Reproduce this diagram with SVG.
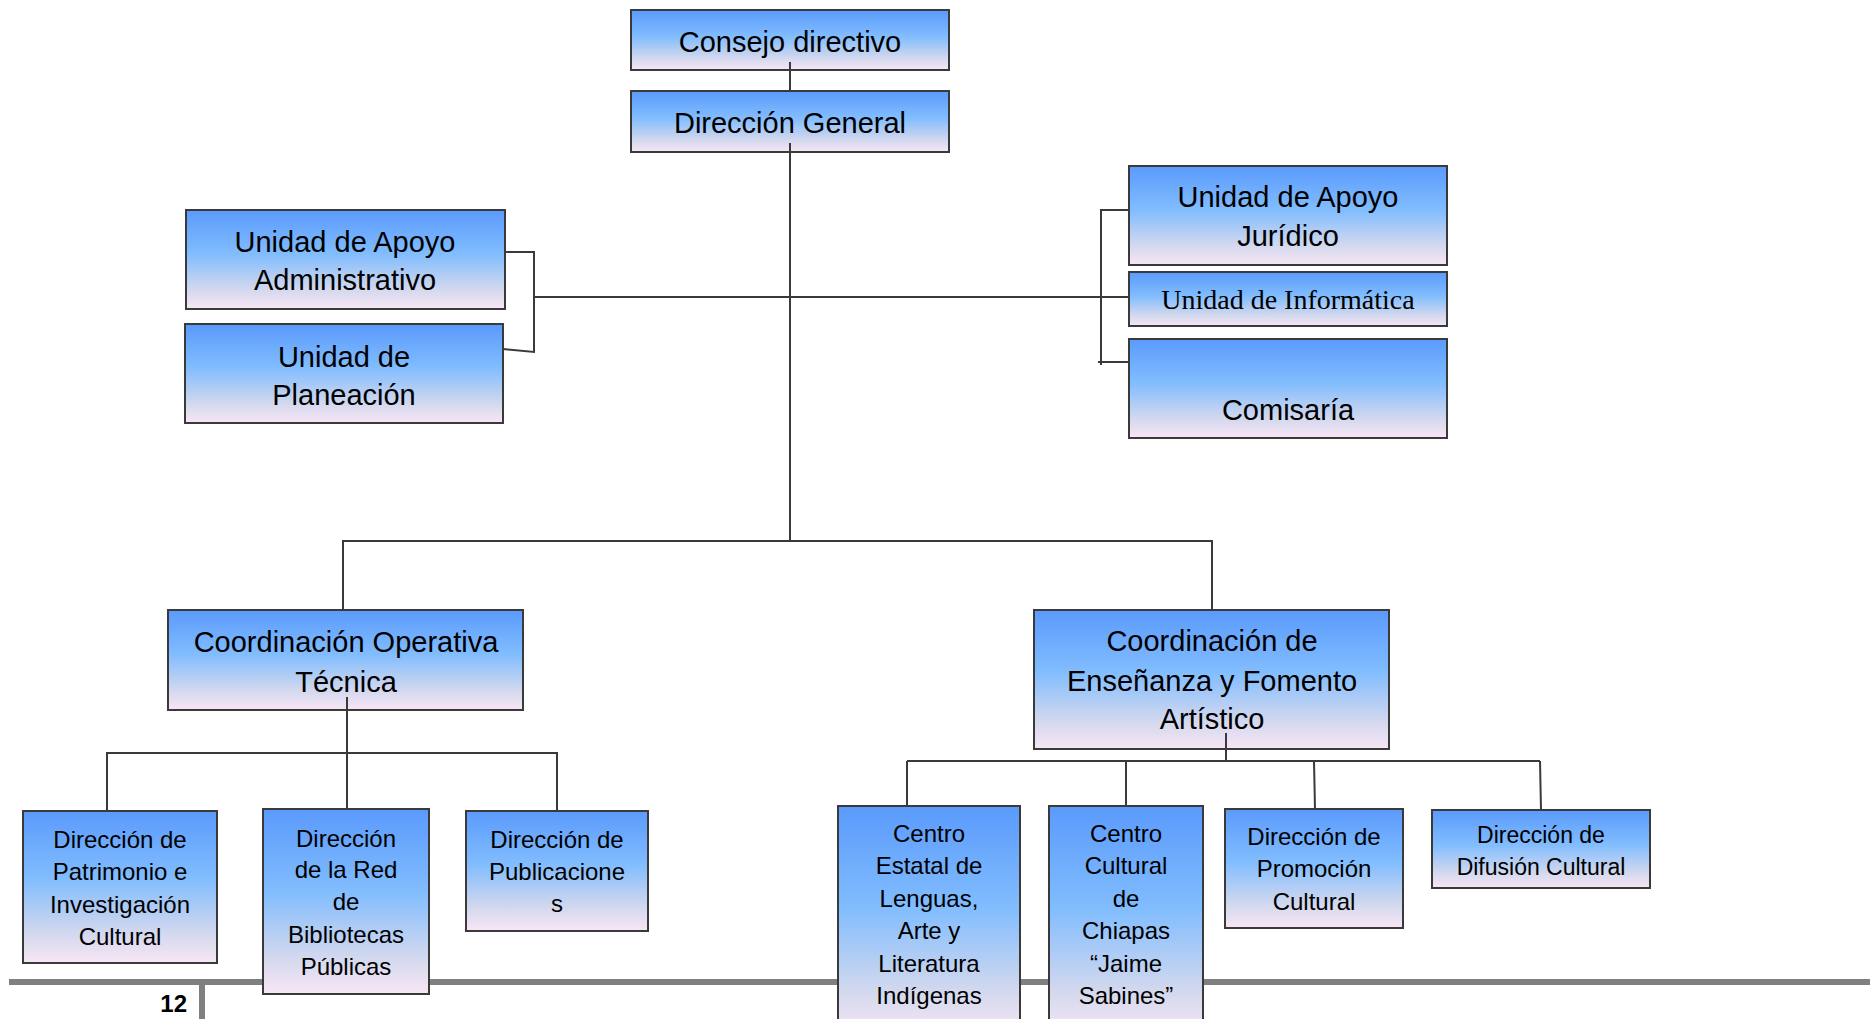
<svg xmlns="http://www.w3.org/2000/svg" width="1870" height="1019" viewBox="0 0 1870 1019">
<defs>
<linearGradient id="g" x1="0" y1="0" x2="0" y2="1">
<stop offset="0" stop-color="#5a9afc"/>
<stop offset="0.45" stop-color="#82bdfe"/>
<stop offset="0.8" stop-color="#d2d8ee"/>
<stop offset="1" stop-color="#f8e6f4"/>
</linearGradient>
<style>
.box{fill:url(#g);stroke:#3a3a3a;stroke-width:2}
.t{font-family:"Liberation Sans",Arial,sans-serif;fill:#000;text-anchor:middle}
.big{font-size:29px}
.sm{font-size:24px}
.ser{font-family:"Liberation Serif","Times New Roman",serif;font-size:28px;fill:#000;text-anchor:middle}
.c{stroke:#3a3a3a;stroke-width:2;fill:none}
.foot{stroke:#808080;stroke-width:6;fill:none}
</style>
</defs>
<rect width="1870" height="1019" fill="#ffffff"/>
<g id="footer">
<line class="foot" x1="9" y1="982" x2="1870" y2="982"/>
<line class="foot" x1="202" y1="982" x2="202" y2="1019"/>
<text x="187" y="1012" style="font-family:'Liberation Sans',Arial,sans-serif;font-size:24px;font-weight:bold;text-anchor:end">12</text>
</g>
<g id="n-consejo"><rect class="box" x="631" y="10" width="318" height="60"/><text class="t big" x="790" y="52">Consejo directivo</text></g>
<g id="n-dg"><rect class="box" x="631" y="91" width="318" height="61"/><text class="t big" x="790" y="133">Dirección General</text></g>
<g id="n-admin"><rect class="box" x="186" y="210" width="319" height="99"/><text class="t big" x="345" y="252">Unidad de Apoyo</text><text class="t big" x="345" y="290">Administrativo</text></g>
<g id="n-plan"><rect class="box" x="185" y="324" width="318" height="99"/><text class="t big" x="344" y="367">Unidad de</text><text class="t big" x="344" y="405">Planeación</text></g>
<g id="n-jur"><rect class="box" x="1129" y="166" width="318" height="99"/><text class="t big" x="1288" y="207">Unidad de Apoyo</text><text class="t big" x="1288" y="246">Jurídico</text></g>
<g id="n-inf"><rect class="box" x="1129" y="272" width="318" height="54"/><text class="ser" x="1288" y="309">Unidad de Informática</text></g>
<g id="n-com"><rect class="box" x="1129" y="339" width="318" height="99"/><text class="t big" x="1288" y="420">Comisaría</text></g>
<g id="n-cot"><rect class="box" x="168" y="610" width="355" height="100"/><text class="t big" x="346" y="652">Coordinación Operativa</text><text class="t big" x="346" y="692">Técnica</text></g>
<g id="n-cef"><rect class="box" x="1034" y="610" width="355" height="139"/><text class="t big" x="1212" y="651">Coordinación de</text><text class="t big" x="1212" y="691">Enseñanza y Fomento</text><text class="t big" x="1212" y="729">Artístico</text></g>
<g id="n-pat"><rect class="box" x="23" y="811" width="194" height="152"/><text class="t sm" x="120" y="848">Dirección de</text><text class="t sm" x="120" y="880">Patrimonio e</text><text class="t sm" x="120" y="913">Investigación</text><text class="t sm" x="120" y="945">Cultural</text></g>
<g id="n-bib"><rect class="box" x="263" y="809" width="166" height="185"/><text class="t sm" x="346" y="847">Dirección</text><text class="t sm" x="346" y="878">de la Red</text><text class="t sm" x="346" y="910">de</text><text class="t sm" x="346" y="943">Bibliotecas</text><text class="t sm" x="346" y="975">Públicas</text></g>
<g id="n-pub"><rect class="box" x="466" y="811" width="182" height="120"/><text class="t sm" x="557" y="848">Dirección de</text><text class="t sm" x="557" y="880">Publicacione</text><text class="t sm" x="557" y="912">s</text></g>
<g id="n-cel"><rect class="box" x="838" y="806" width="182" height="230"/><text class="t sm" x="929" y="842">Centro</text><text class="t sm" x="929" y="874">Estatal de</text><text class="t sm" x="929" y="907">Lenguas,</text><text class="t sm" x="929" y="939">Arte y</text><text class="t sm" x="929" y="972">Literatura</text><text class="t sm" x="929" y="1004">Indígenas</text></g>
<g id="n-ccc"><rect class="box" x="1049" y="806" width="154" height="230"/><text class="t sm" x="1126" y="842">Centro</text><text class="t sm" x="1126" y="874">Cultural</text><text class="t sm" x="1126" y="907">de</text><text class="t sm" x="1126" y="939">Chiapas</text><text class="t sm" x="1126" y="972">“Jaime</text><text class="t sm" x="1126" y="1004">Sabines”</text></g>
<g id="n-pro"><rect class="box" x="1225" y="809" width="178" height="119"/><text class="t sm" x="1314" y="845">Dirección de</text><text class="t sm" x="1314" y="877">Promoción</text><text class="t sm" x="1314" y="910">Cultural</text></g>
<g id="n-dif"><rect class="box" x="1432" y="810" width="218" height="78"/><text class="t" style="font-size:23px" x="1541" y="843">Dirección de</text><text class="t" style="font-size:23px" x="1541" y="875">Difusión Cultural</text></g>
<g id="connectors">
<line class="c" x1="790" y1="62" x2="790" y2="91"/>
<line class="c" x1="790" y1="143" x2="790" y2="541"/>
<line class="c" x1="534" y1="297" x2="1129" y2="297"/>
<polyline class="c" points="505,252 534,252 534,352 503,349"/>
<polyline class="c" points="1129,210 1101,210 1101,365"/>
<line class="c" x1="1098" y1="362" x2="1129" y2="362"/>
<polyline class="c" points="343,610 343,541 1212,541 1212,610"/>
<line class="c" x1="347" y1="697" x2="347" y2="809"/>
<polyline class="c" points="107,811 107,753 557,753 557,811"/>
<line class="c" x1="1226" y1="733" x2="1226" y2="761"/>
<line class="c" x1="907" y1="761" x2="1540" y2="761"/>
<line class="c" x1="907" y1="761" x2="907" y2="806"/>
<line class="c" x1="1126" y1="761" x2="1126" y2="806"/>
<line class="c" x1="1314" y1="761" x2="1315" y2="809"/>
<line class="c" x1="1540" y1="761" x2="1541" y2="810"/>
</g>
</svg>
